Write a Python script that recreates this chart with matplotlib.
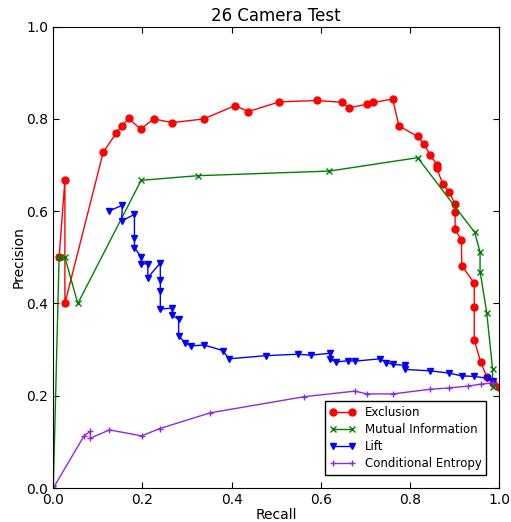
import matplotlib
matplotlib.use('Agg')
import matplotlib.pyplot as plt

# recall / precision pairs per method
excl_recall = [0.013, 0.026, 0.026, 0.112, 0.141, 0.154, 0.169, 0.196, 0.225, 0.267,
               0.337, 0.408, 0.437, 0.507, 0.592, 0.648, 0.662, 0.704, 0.718, 0.761,
               0.775, 0.817, 0.831, 0.845, 0.860, 0.860, 0.873, 0.887, 0.901, 0.901,
               0.901, 0.915, 0.916, 0.944, 0.944, 0.944, 0.958, 0.972, 0.986, 1.0]
excl_prec = [0.500, 0.667, 0.400, 0.728, 0.769, 0.785, 0.801, 0.778, 0.800, 0.792,
             0.800, 0.829, 0.816, 0.837, 0.840, 0.836, 0.824, 0.832, 0.836, 0.843,
             0.785, 0.762, 0.746, 0.722, 0.701, 0.693, 0.660, 0.642, 0.616, 0.598,
             0.561, 0.538, 0.482, 0.444, 0.392, 0.321, 0.274, 0.241, 0.227, 0.220]

mi_recall = [0.0, 0.013, 0.026, 0.055, 0.197, 0.324, 0.619, 0.817, 0.945, 0.957,
             0.957, 0.972, 0.985, 0.985]
mi_prec = [0.0, 0.500, 0.500, 0.400, 0.667, 0.677, 0.687, 0.716, 0.554, 0.511,
           0.469, 0.380, 0.258, 0.220]

lift_recall = [0.126, 0.155, 0.153, 0.182, 0.182, 0.182, 0.197, 0.197, 0.212, 0.212,
               0.240, 0.240, 0.240, 0.240, 0.267, 0.267, 0.281, 0.281, 0.295, 0.309,
               0.338, 0.380, 0.394, 0.478, 0.548, 0.577, 0.620, 0.620, 0.634, 0.661,
               0.676, 0.732, 0.747, 0.761, 0.789, 0.789, 0.845, 0.888, 0.916, 0.944,
               0.972, 0.987]
lift_prec = [0.601, 0.613, 0.579, 0.593, 0.543, 0.521, 0.501, 0.486, 0.486, 0.456,
             0.488, 0.450, 0.427, 0.388, 0.390, 0.374, 0.366, 0.330, 0.315, 0.308,
             0.310, 0.298, 0.280, 0.287, 0.290, 0.288, 0.292, 0.280, 0.273, 0.276,
             0.275, 0.280, 0.272, 0.268, 0.266, 0.257, 0.254, 0.249, 0.243, 0.242,
             0.238, 0.232]

ce_recall = [0.0, 0.069, 0.083, 0.083, 0.126, 0.198, 0.239, 0.352, 0.563, 0.676,
             0.704, 0.761, 0.845, 0.888, 0.930, 0.958, 0.987]
ce_prec = [0.0, 0.113, 0.123, 0.108, 0.126, 0.113, 0.129, 0.163, 0.198, 0.210,
           0.204, 0.204, 0.214, 0.217, 0.221, 0.225, 0.228]

fig = plt.figure(figsize=(5.11, 5.22), dpi=100)
ax = fig.add_axes([0.1043, 0.0651, 0.8727, 0.8838])

ax.plot(excl_recall, excl_prec, '-o', color='red', lw=1, ms=5, mec='red', label='Exclusion')
ax.plot(mi_recall, mi_prec, '-x', color='green', lw=1, ms=4, label='Mutual Information')
ax.plot(lift_recall, lift_prec, '-v', color='blue', lw=1, ms=5, mec='blue', label='Lift')
ax.plot(ce_recall, ce_prec, '-+', color='blueviolet', lw=1, ms=5, label='Conditional Entropy')

ax.set_xlim(0, 1)
ax.set_ylim(0, 1)
ax.set_xticks([0, 0.2, 0.4, 0.6, 0.8, 1.0])
ax.set_yticks([0, 0.2, 0.4, 0.6, 0.8, 1.0])
ax.tick_params(direction='in', top=True, right=True, length=4, labelsize=10)
ax.set_xlabel('Recall', fontsize=10, labelpad=1)
ax.set_ylabel('Precision', fontsize=10, labelpad=0.5)
ax.set_title('26 Camera Test', fontsize=12, pad=4)

leg = ax.legend(loc='lower right', fontsize=8.5, fancybox=False, framealpha=1,
                edgecolor='black', numpoints=2, labelspacing=0.35,
                handlelength=2.2, borderaxespad=1.1, borderpad=0.4)
leg.get_frame().set_linewidth(1)

fig.savefig('out.png', dpi=100)
